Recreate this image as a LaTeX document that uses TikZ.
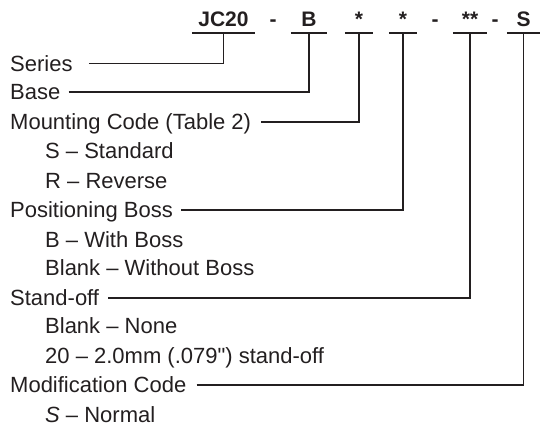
\documentclass[tikz,border=0pt]{standalone}
\usepackage{fontspec}
\setmainfont{Liberation Sans}
\definecolor{ink}{RGB}{35,31,32}

\tikzset{
	code/.style={anchor=base, inner xsep=0pt, inner ysep=6pt, text depth=0pt, font=\fontsize{21}{21}\selectfont\bfseries, text=ink},
	part/.style={code, minimum width=#1},
	item/.style={anchor=west, inner sep=0pt, text height=15.75pt, text depth=0pt, font=\fontsize{22}{22}\selectfont, text=ink},
	uline/.style={ink, line width=2.2pt},
	lead/.style={ink, line width=1.1pt}
}

\begin{document}
			\begin{tikzpicture}[x=1pt, y=1pt]
				\useasboundingbox (0,0) rectangle (540,427);

				% part number
				\node[part=63pt] (jc) at (223.5,400) {JC20};
				\node[code] (d1) at (273,400) {-};
				\node[part=36pt] (base) at (309,400) {B};
				\node[part=28pt] (mount) at (359,400) {*};
				\node[part=28pt] (boss) at (403,400) {*};
				\node[code] (d2) at (435,400) {-};
				\node[part=34pt] (stand) at (470,400) {**};
				\node[code] (d3) at (495,400) {-};
				\node[part=33pt] (mod) at (523.5,400) {S};

				\foreach \p in {jc,base,mount,boss,stand,mod}
				\draw[uline] (\p.south west) -- (\p.south east);

				% legend
				\node[item] (series) at (10,363.5) {Series};
				\node[item] (basel) at (10,335) {Base};
				\node[item] (mountl) at (10,305) {Mounting Code (Table 2)};
				\node[item] (mounts) at (45,276) {S \textendash{} Standard};
				\node[item] (mountr) at (45,246) {R \textendash{} Reverse};
				\node[item] (bossl) at (10,217) {Positioning Boss};
				\node[item] (bossb) at (45,187.5) {B \textendash{} With Boss};
				\node[item] (bossn) at (45,159) {Blank \textendash{} Without Boss};
				\node[item] (standl) at (10,129) {Stand-off};
				\node[item] (standn) at (45,101) {Blank \textendash{} None};
				\node[item] (stand20) at (45,71) {20 \textendash{} 2.0mm (.079\textquotedbl) stand-off};
				\node[item] (modl) at (10,42) {Modification Code};
				\node[item] (modn) at (45,12) {\textit{S} \textendash{} Normal};

				\draw[lead] ([xshift=16pt]series.east) -| (jc.south);
				\draw[lead] ([xshift=8pt]basel.east) -| (base.south);
				\draw[lead] ([xshift=10pt]mountl.east) -| (mount.south);
				\draw[lead] ([xshift=8pt]bossl.east) -| (boss.south);
				\draw[lead] ([xshift=9pt]standl.east) -| (stand.south);
				\draw[lead] ([xshift=10pt]modl.east) -| (mod.south);

			\end{tikzpicture}
\end{document}
